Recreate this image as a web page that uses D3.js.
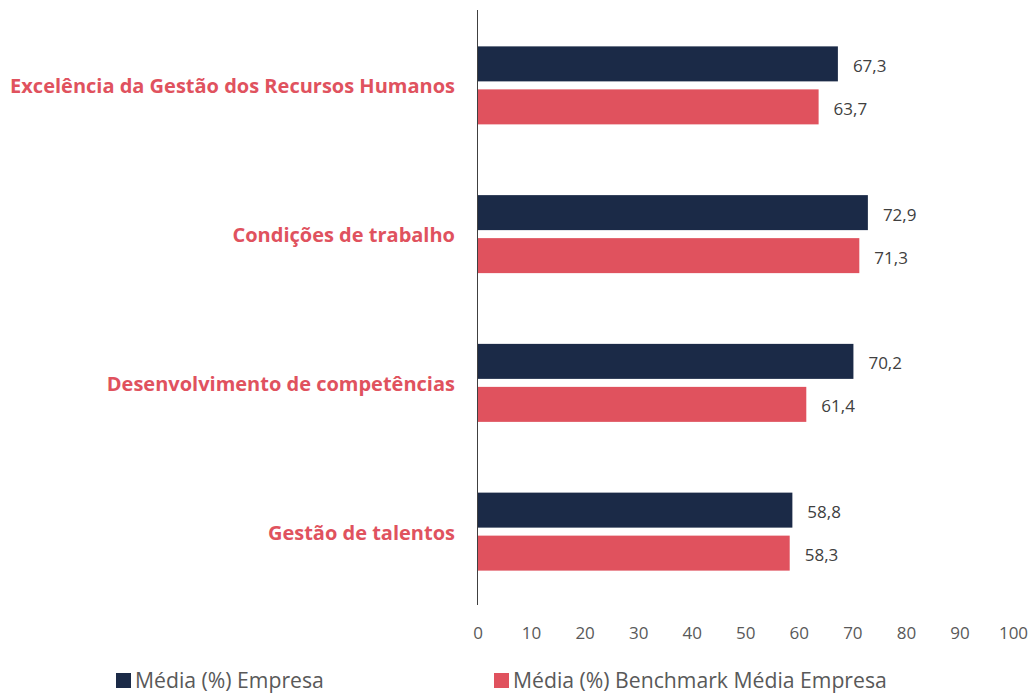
<!DOCTYPE html>
<html>
<head>
<meta charset="utf-8">
<script src="https://cdn.jsdelivr.net/npm/d3@7"></script>
<style>
  body { margin: 0; background: #fff; }
  text { font-family: "Open Sans", "Noto Sans", sans-serif; }
</style>
</head>
<body>
<div id="chart"></div>
<script>
var categories = ["Excelência da Gestão dos Recursos Humanos", "Condições de trabalho", "Desenvolvimento de competências", "Gestão de talentos"];
var empresa = [67.3, 72.9, 70.2, 58.8];
var benchmark = [63.7, 71.3, 61.4, 58.3];
var seriesNames = ["Média (%) Empresa", "Média (%) Benchmark Média Empresa"];
var ticks = [0, 10, 20, 30, 40, 50, 60, 70, 80, 90, 100];

var svgWidth = 1036;
var svgHeight = 695;
var colors = ["#1b2a47", "#e0525e"];

var svg = d3.select("#chart")
    .append("svg")
    .attr("width", svgWidth)
    .attr("height", svgHeight);

var x = d3.scaleLinear().domain([0, 100]).range([477.5, 1013]);
var y = d3.scaleBand().domain(categories).range([11, 606]);

var barH = 35, gap = 8;

categories.forEach(function(cat, i) {
    var c = y(cat) + y.bandwidth() / 2;
    var vals = [empresa[i], benchmark[i]];
    vals.forEach(function(v, j) {
        var top = j === 0 ? c - gap / 2 - barH : c + gap / 2;
        svg.append("rect")
            .attr("x", x(0))
            .attr("y", top)
            .attr("width", x(v) - x(0))
            .attr("height", barH)
            .attr("fill", colors[j]);
        svg.append("text")
            .attr("x", x(v) + 15)
            .attr("y", top + barH / 2 + 2)
            .attr("dy", "0.35em")
            .attr("font-size", "17px")
            .attr("fill", "#404040")
            .text(d3.format(".1f")(v).replace(".", ","));
    });
    svg.append("text")
        .attr("x", 455)
        .attr("y", c + 1)
        .attr("dy", "0.35em")
        .attr("text-anchor", "end")
        .attr("font-size", "20px")
        .attr("font-weight", "bold")
        .attr("fill", "#e0525e")
        .text(cat);
});

// vertical axis line
svg.append("line")
    .attr("x1", x(0)).attr("x2", x(0))
    .attr("y1", 10).attr("y2", 605)
    .attr("stroke", "#404040")
    .attr("stroke-width", 1);

var bottomAxis = d3.axisBottom(x).tickValues(ticks).tickSize(0).tickPadding(0);
var axisG = svg.append("g")
    .attr("transform", "translate(0, 627)")
    .call(bottomAxis);
axisG.select(".domain").remove();
axisG.selectAll("text")
    .attr("font-size", "17px")
    .attr("fill", "#595959")
    .attr("font-family", "Open Sans, Noto Sans, sans-serif");

// legend
var legendX = [116, 494];
seriesNames.forEach(function(name, j) {
    svg.append("rect")
        .attr("x", legendX[j])
        .attr("y", 673)
        .attr("width", 15)
        .attr("height", 15)
        .attr("fill", colors[j]);
    svg.append("text")
        .attr("x", legendX[j] + 19)
        .attr("y", 681)
        .attr("dy", "0.35em")
        .attr("font-size", "21.2px")
        .attr("fill", "#595959")
        .text(name);
});
</script>
</body>
</html>
